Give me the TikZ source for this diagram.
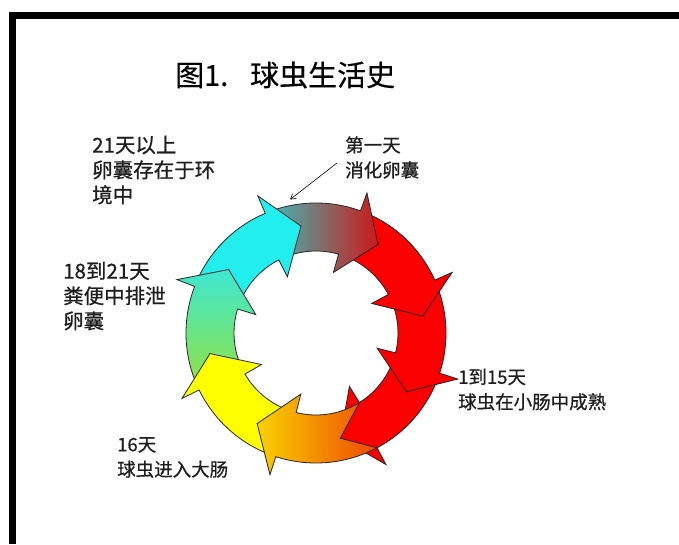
\documentclass[tikz,border=0pt]{standalone}
\usepackage{fontspec}
\newfontfamily\cjk[FakeBold=0.6]{Noto Sans CJK SC}
\newfontfamily\cjktitle[FakeBold=0.3]{Noto Sans CJK SC}
\usetikzlibrary{arrows.meta}
\definecolor{cyanA}{RGB}{34,238,238}
\definecolor{tealB}{RGB}{60,190,190}
\definecolor{redB}{RGB}{205,25,25}
\definecolor{redC}{RGB}{250,0,0}
\definecolor{yelF}{RGB}{250,210,0}
\definecolor{orgF}{RGB}{238,72,0}
\definecolor{yelG}{RGB}{255,255,0}
\definecolor{limH}{RGB}{150,225,60}
\definecolor{cyaH}{RGB}{60,232,210}
\definecolor{txt}{RGB}{30,30,30}
\tikzset{
  ringarrowstyle/.style={draw=black!85, line width=0.8pt, line join=miter},
  lbl/.style={inner sep=0pt, anchor=west, align=left, text=txt, font=\cjk\fontsize{18.5}{25}\selectfont},
  lblbig/.style={lbl, font=\cjk\fontsize{20.5}{25}\selectfont},
  ttl/.style={inner sep=0pt, anchor=west, text=black, font=\cjktitle\fontsize{29}{32}\selectfont}
}
\def\Ro{130}
\def\Ri{82}
\def\Rm{108}
\def\ex{19}
\def\dO{15}
\def\dI{19}
\newcommand{\ringarrow}[3]{%
  \pgfmathsetmacro\To{#1+\dO}%
  \pgfmathsetmacro\Ti{#1+\dI}%
  \pgfmathsetmacro\Bo{#2+\dO}%
  \pgfmathsetmacro\Bi{#2+\dI}%
  \pgfmathsetmacro\Rox{\Ro+\ex}%
  \pgfmathsetmacro\Rix{\Ri-\ex}%
  \path[ringarrowstyle,#3] (\To:\Ro) arc[start angle=\To,end angle=\Bo,radius=\Ro]
    -- (\Bo:\Rox) -- (#2:\Rm) -- (\Bi:\Rix) -- (\Bi:\Ri)
    arc[start angle=\Bi,end angle=\Ti,radius=\Ri] -- (#1:\Rm) -- cycle;
}
\begin{document}
\begin{tikzpicture}[x=1pt,y=1pt]
\useasboundingbox (0,0) rectangle (679,544);
\fill[white] (0,0) rectangle (679,544);
% frame (top and left edges)
\fill[black] (9,525) rectangle (679,532);
\fill[black] (9,0) rectangle (16,532);
% title
\node[ttl] (title) at (175,469) {图1.\hspace{0.75em}球虫生活史};
% ring of arrows
\begin{scope}[shift={(316,211)}]
  \ringarrow{-33}{-77}{fill=redC}
  \ringarrow{9}{-33}{fill=redC}
  \ringarrow{55}{9}{fill=redC}
  \ringarrow{98}{55}{left color=tealB, right color=redB}
  \ringarrow{144}{98}{fill=cyanA}
  \ringarrow{-169}{-216}{bottom color=limH, top color=cyaH}
  \ringarrow{-123}{-169}{fill=yelG}
  \ringarrow{-77}{-123}{left color=yelF, right color=orgF}
  \coordinate (ptrend) at (101:136);
\end{scope}
% labels
\node[lblbig] (l21) at (92,374) {21天以上\\卵囊存在于环\\境中};
\node[lbl] (lday1) at (345,386.5) {第一天\\消化卵囊};
\node[lblbig] (l18) at (63,248) {18到21天\\粪便中排泄\\卵囊};
\node[lbl] (l1to15) at (458,154.5) {1到15天\\球虫在小肠中成熟};
\node[lbl] (l16) at (117,86.5) {16天\\球虫进入大肠};
% pointer
\coordinate (ptrstart) at (337,381);
\draw[line width=0.6pt, -{Straight Barb[length=5pt,width=6pt]}] (ptrstart) -- (ptrend);
\end{tikzpicture}
\end{document}
